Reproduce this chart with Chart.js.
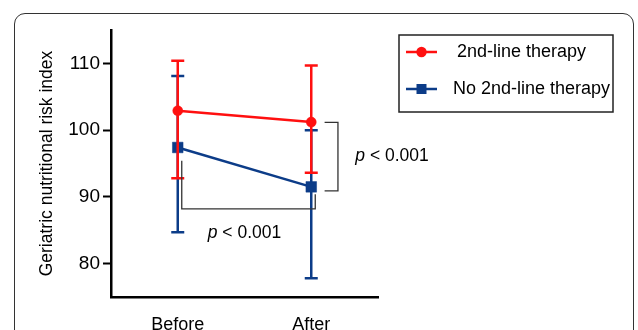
<!DOCTYPE html>
<html>
<head>
<meta charset="utf-8">
<script src="https://cdn.jsdelivr.net/npm/chart.js@4.4.1/dist/chart.umd.min.js"></script>
<style>
html, body { margin: 0; padding: 0; background: #fff; overflow: hidden; }
#wrap { position: relative; width: 638px; height: 330px; }
#frame { position: absolute; left: 14px; top: 13px; width: 620px; height: 400px;
         border: 1.3px solid #333; border-radius: 11px; box-sizing: border-box; }
canvas { position: absolute; left: 0; top: 0; }
</style>
</head>
<body>
<div id="wrap">
  <div id="frame"></div>
  <canvas id="gnriChart" width="638" height="330"></canvas>
</div>
<script>
// data
const xLabels = ['Before', 'After'];
const yTicks = [80, 90, 100, 110];
const seriesNames = ['2nd-line therapy', 'No 2nd-line therapy'];

const redMean = [102.9, 101.2];
const redUpper = [110.4, 109.7];
const redLower = [92.8, 93.6];

const blueMean = [97.4, 91.5];
const blueUpper = [108.1, 100.0];
const blueLower = [84.7, 77.8];

// significance brackets, points in data units (x: 0 = Before, 1 = After)
const bracketTime = [[0.03, 95.4], [0.03, 88.2], [1.03, 88.2], [1.03, 90.4]];
const bracketGroup = [[1.1, 101.15], [1.2, 101.15], [1.2, 90.9], [1.1, 90.9]];
const pTexts = ['< 0.001', '< 0.001'];
const pAnchors = [[0.5, 84.6, 'center'], [1.33, 96.1, 'left']];

const RED = '#ff1010';
const BLUE = '#0c3c88';
const FONT = "'Liberation Sans', Arial, sans-serif";
const TXT = '17.5px ';

const toPoints = (vals) => vals.map((v, i) => ({ x: i, y: v }));

// error bars drawn just before each dataset so red sits over blue
const errorBars = {
    id: 'errorBars',
    beforeDatasetDraw(chart, args) {
        const ds = chart.data.datasets[args.index];
        const { ctx, scales: { x, y } } = chart;
        ctx.save();
        ctx.strokeStyle = ds.borderColor;
        ctx.lineWidth = 2.5;
        ds.upper.forEach((up, i) => {
            const px = x.getPixelForValue(i);
            const top = y.getPixelForValue(up);
            const bot = y.getPixelForValue(ds.lower[i]);
            ctx.beginPath();
            ctx.moveTo(px, top); ctx.lineTo(px, bot);
            ctx.moveTo(px - 6.5, top); ctx.lineTo(px + 6.5, top);
            ctx.moveTo(px - 6.5, bot); ctx.lineTo(px + 6.5, bot);
            ctx.stroke();
        });
        ctx.restore();
    }
};

function drawP(ctx, text, px, py, align) {
    ctx.textBaseline = 'middle';
    ctx.textAlign = 'left';
    ctx.font = 'italic ' + TXT + FONT;
    const wp = ctx.measureText('p ').width;
    ctx.font = TXT + FONT;
    const wr = ctx.measureText(text).width;
    let left = align === 'center' ? px - (wp + wr) / 2 : px;
    ctx.font = 'italic ' + TXT + FONT;
    ctx.fillText('p', left, py);
    ctx.font = TXT + FONT;
    ctx.fillText(text, left + wp, py);
}

const annotations = {
    id: 'annotations',
    afterDraw(chart) {
        const { ctx, scales: { x, y } } = chart;
        ctx.save();
        ctx.strokeStyle = '#333';
        ctx.lineWidth = 1.3;
        [bracketTime, bracketGroup].forEach(br => {
            ctx.beginPath();
            br.forEach(([bx, by], i) => {
                const px = x.getPixelForValue(bx), py = y.getPixelForValue(by);
                if (i === 0) ctx.moveTo(px, py); else ctx.lineTo(px, py);
            });
            ctx.stroke();
        });
        ctx.fillStyle = '#000';
        pTexts.forEach((t, i) => {
            const [ax, ay, al] = pAnchors[i];
            drawP(ctx, t, x.getPixelForValue(ax), y.getPixelForValue(ay), al);
        });

        // framed legend
        const box = { left: 399, top: 35, right: 613, bottom: 112 };
        ctx.strokeStyle = '#222';
        ctx.lineWidth = 1.5;
        ctx.strokeRect(box.left, box.top, box.right - box.left, box.bottom - box.top);
        const rowY = [52, 89];
        const textX = [457, 453];
        chart.data.datasets.forEach((ds, i) => {
            const cy = rowY[i];
            ctx.strokeStyle = ds.borderColor;
            ctx.lineWidth = 2.5;
            ctx.beginPath();
            ctx.moveTo(406, cy); ctx.lineTo(437, cy);
            ctx.stroke();
            ctx.fillStyle = ds.borderColor;
            ctx.beginPath();
            if (ds.pointStyle === 'rect') {
                ctx.rect(416.5, cy - 5, 10, 10);
            } else {
                ctx.arc(421.5, cy, 5.2, 0, Math.PI * 2);
            }
            ctx.fill();
            ctx.fillStyle = '#000';
            ctx.font = '18px ' + FONT;
            ctx.textAlign = 'left';
            ctx.textBaseline = 'middle';
            ctx.fillText(ds.label, textX[i], cy);
        });
        ctx.restore();
    }
};

const ctx = document.getElementById('gnriChart').getContext('2d');
new Chart(ctx, {
    type: 'line',
    data: {
        datasets: [{
            label: seriesNames[0],
            data: toPoints(redMean),
            upper: redUpper,
            lower: redLower,
            borderColor: RED,
            backgroundColor: RED,
            borderWidth: 2.5,
            pointStyle: 'circle',
            pointRadius: 5,
            pointBorderWidth: 0.5
        }, {
            label: seriesNames[1],
            data: toPoints(blueMean),
            upper: blueUpper,
            lower: blueLower,
            borderColor: BLUE,
            backgroundColor: BLUE,
            borderWidth: 2.5,
            pointStyle: 'rect',
            pointRadius: 7.5,
            pointBorderWidth: 0.5
        }]
    },
    options: {
        responsive: false,
        animation: false,
        devicePixelRatio: 1,
        layout: { padding: { top: 30, right: 260, left: 0, bottom: 0 } },
        plugins: {
            legend: { display: false },
            tooltip: { enabled: false }
        },
        scales: {
            x: {
                type: 'linear',
                min: -0.5,
                max: 1.5,
                afterBuildTicks: s => { s.ticks = xLabels.map((_, i) => ({ value: i })); },
                afterFit: s => { s.height = 33; },
                border: { color: '#000', width: 2.5 },
                grid: { drawOnChartArea: false, drawTicks: false },
                ticks: {
                    padding: 17,
                    color: '#000',
                    font: { family: FONT, size: 18 },
                    callback: v => xLabels[v]
                }
            },
            y: {
                min: 75,
                max: 115,
                afterBuildTicks: s => { s.ticks = yTicks.map(v => ({ value: v })); },
                afterFit: s => { s.width = 111; },
                border: { color: '#000', width: 2.5 },
                grid: { drawOnChartArea: false, tickLength: 8, tickWidth: 2, tickColor: '#000' },
                ticks: {
                    padding: 3,
                    color: '#000',
                    font: { family: FONT, size: 19 }
                },
                title: {
                    display: true,
                    text: 'Geriatric nutritional risk index',
                    color: '#000',
                    font: { family: FONT, size: 17.5 },
                    padding: { top: 37, bottom: 0 }
                }
            }
        }
    },
    plugins: [errorBars, annotations]
});
</script>
</body>
</html>
